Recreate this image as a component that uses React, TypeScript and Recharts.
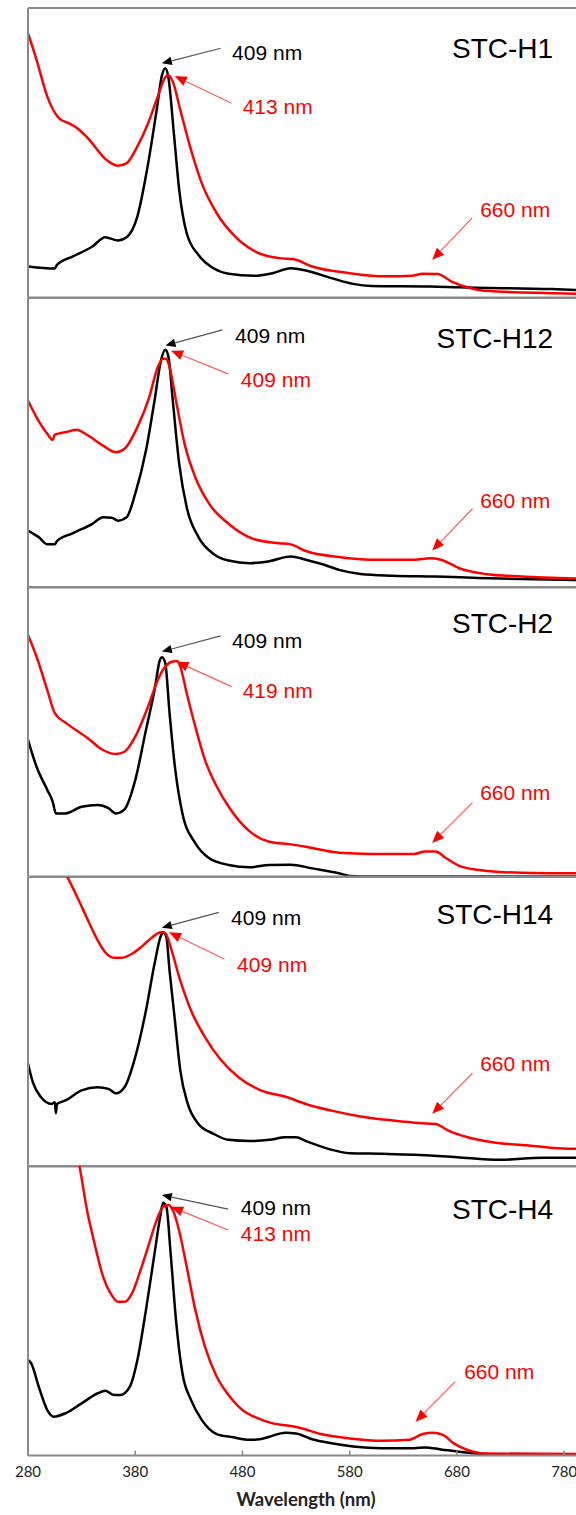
import React from 'react';
import { LineChart, Line, XAxis, YAxis, ReferenceLine, ReferenceDot } from 'recharts';

// wavelength (nm), absorbance (normalised per panel)
const p1Black = [[280, 0.107], [305, 0.1], [307, 0.113], [322, 0.142], [340, 0.176], [352, 0.208], [364, 0.197], [372, 0.208], [382, 0.28], [391, 0.441], [400, 0.648], [405, 0.769], [408, 0.792], [411, 0.758], [416, 0.568], [421, 0.372], [428, 0.222], [439, 0.147], [453, 0.101], [467, 0.082], [491, 0.075], [508, 0.084], [525, 0.101], [539, 0.093], [563, 0.067], [583, 0.047], [600, 0.04], [655, 0.038], [682, 0.035], [768, 0.029], [791, 0.026]];
const p1Red = [[280, 0.913], [288, 0.821], [298, 0.694], [309, 0.619], [318, 0.602], [326, 0.585], [336, 0.55], [353, 0.476], [364, 0.455], [372, 0.464], [382, 0.522], [392, 0.602], [401, 0.694], [408, 0.761], [411, 0.768], [415, 0.746], [422, 0.648], [432, 0.51], [442, 0.395], [456, 0.291], [473, 0.211], [494, 0.155], [514, 0.136], [528, 0.132], [545, 0.107], [580, 0.084], [614, 0.073], [638, 0.075], [648, 0.082], [662, 0.081], [675, 0.055], [693, 0.032], [706, 0.023], [768, 0.015], [791, 0.013]];

const p2Black = [[280, 0.197], [290, 0.174], [298, 0.149], [305, 0.149], [307, 0.16], [322, 0.188], [340, 0.22], [350, 0.243], [358, 0.241], [364, 0.231], [372, 0.243], [380, 0.324], [390, 0.473], [398, 0.646], [404, 0.784], [408, 0.821], [411, 0.796], [415, 0.646], [421, 0.427], [428, 0.277], [439, 0.174], [453, 0.116], [467, 0.093], [487, 0.084], [505, 0.091], [525, 0.107], [539, 0.096], [553, 0.082], [570, 0.061], [590, 0.047], [620, 0.041], [660, 0.038], [700, 0.033], [740, 0.029], [791, 0.026]];
const p2Red = [[280, 0.646], [288, 0.588], [298, 0.531], [303, 0.51], [305, 0.528], [316, 0.537], [325, 0.545], [336, 0.525], [350, 0.49], [362, 0.467], [370, 0.479], [382, 0.554], [393, 0.657], [401, 0.761], [406, 0.79], [409, 0.79], [412, 0.761], [418, 0.646], [426, 0.496], [436, 0.381], [449, 0.289], [467, 0.22], [490, 0.168], [514, 0.153], [525, 0.149], [539, 0.126], [570, 0.105], [600, 0.096], [640, 0.096], [655, 0.101], [665, 0.096], [684, 0.064], [706, 0.047], [740, 0.038], [791, 0.031]];

const p3Black = [[280, 0.472], [288, 0.379], [298, 0.299], [303, 0.259], [306, 0.218], [315, 0.218], [330, 0.241], [345, 0.247], [355, 0.236], [362, 0.218], [370, 0.232], [380, 0.333], [390, 0.506], [398, 0.644], [403, 0.748], [405, 0.757], [408, 0.737], [412, 0.564], [417, 0.379], [424, 0.218], [436, 0.115], [449, 0.063], [467, 0.04], [487, 0.032], [505, 0.04], [525, 0.041], [545, 0.028], [570, 0.011], [580, 0.002], [600, 0], [791, 0]];
const p3Red = [[280, 0.834], [288, 0.759], [298, 0.644], [305, 0.564], [316, 0.529], [336, 0.477], [350, 0.437], [362, 0.423], [370, 0.431], [380, 0.483], [392, 0.587], [401, 0.679], [408, 0.725], [414, 0.742], [419, 0.744], [422, 0.725], [428, 0.633], [436, 0.518], [445, 0.403], [456, 0.311], [467, 0.242], [487, 0.155], [505, 0.12], [525, 0.111], [539, 0.103], [570, 0.082], [600, 0.078], [640, 0.078], [650, 0.086], [660, 0.086], [670, 0.063], [684, 0.034], [706, 0.02], [740, 0.013], [791, 0.011]];

const p4Black = [[280, 0.355], [285, 0.286], [292, 0.24], [302, 0.216], [305, 0.222], [306, 0.184], [307, 0.216], [315, 0.228], [330, 0.263], [345, 0.274], [355, 0.268], [362, 0.253], [370, 0.274], [380, 0.378], [390, 0.539], [398, 0.7], [404, 0.798], [406, 0.809], [409, 0.792], [412, 0.677], [417, 0.504], [422, 0.332], [429, 0.216], [439, 0.147], [453, 0.113], [467, 0.092], [487, 0.088], [505, 0.092], [520, 0.101], [530, 0.101], [539, 0.088], [560, 0.061], [580, 0.046], [610, 0.044], [640, 0.041], [680, 0.032], [720, 0.023], [760, 0.03], [791, 0.03]];
const p4Red = [[280, 1.3], [300, 1.1], [317, 0.998], [326, 0.93], [336, 0.85], [345, 0.781], [352, 0.74], [360, 0.721], [367, 0.721], [377, 0.735], [387, 0.763], [396, 0.792], [404, 0.809], [408, 0.806], [413, 0.758], [421, 0.654], [432, 0.539], [445, 0.447], [459, 0.372], [476, 0.309], [497, 0.263], [521, 0.24], [539, 0.216], [563, 0.193], [590, 0.173], [620, 0.159], [645, 0.15], [660, 0.147], [672, 0.124], [690, 0.101], [713, 0.084], [745, 0.073], [770, 0.064], [791, 0.061]];

const p5Black = [[280, 0.33], [283, 0.318], [290, 0.238], [298, 0.157], [304, 0.134], [315, 0.146], [330, 0.18], [345, 0.215], [352, 0.224], [360, 0.209], [366, 0.209], [375, 0.238], [382, 0.33], [390, 0.503], [398, 0.698], [403, 0.819], [406, 0.873], [409, 0.86], [413, 0.698], [418, 0.468], [424, 0.284], [432, 0.192], [442, 0.123], [456, 0.074], [471, 0.063], [487, 0.054], [496, 0.056], [505, 0.065], [520, 0.079], [530, 0.076], [545, 0.056], [563, 0.042], [583, 0.031], [610, 0.025], [640, 0.025], [650, 0.028], [665, 0.021], [684, 0.012], [706, 0.005], [720, 0.003], [791, 0.003]];
const p5Red = [[280, 1.6], [300, 1.3], [315, 1.12], [328, 0.998], [335, 0.848], [342, 0.733], [350, 0.618], [357, 0.56], [364, 0.531], [370, 0.531], [377, 0.56], [385, 0.641], [393, 0.733], [400, 0.813], [406, 0.859], [411, 0.865], [415, 0.848], [420, 0.79], [428, 0.652], [436, 0.503], [445, 0.376], [456, 0.272], [467, 0.209], [480, 0.157], [494, 0.129], [508, 0.111], [525, 0.102], [535, 0.094], [553, 0.074], [580, 0.059], [610, 0.051], [635, 0.054], [648, 0.074], [657, 0.079], [667, 0.071], [677, 0.042], [690, 0.019], [706, 0.007], [791, 0.005]];

const titles = ['STC-H1', 'STC-H12', 'STC-H2', 'STC-H14', 'STC-H4'];
const blackPeaks = ['409 nm', '409 nm', '409 nm', '409 nm', '409 nm'];
const redPeaks = ['413 nm', '409 nm', '419 nm', '409 nm', '413 nm'];
const qBand = '660 nm';
const xTicks = [280, 380, 480, 580, 680, 780];

// annotation placement in data coordinates: [tail, tip] for arrows, [nm, y] for labels
const notes = [
  { bA: [[459.7, 0.861], [404.8, 0.809]], bL: [470.3, 0.845], rA: [[469.9, 0.671], [416.8, 0.765]], rL: [480.2, 0.658], qA: [[694.2, 0.275], [656.9, 0.13]], qL: [701.6, 0.302], tY: 0.862 },
  { bA: [[461.3, 0.89], [408.2, 0.836]], bL: [473.1, 0.87], rA: [[466.6, 0.738], [413.4, 0.818]], rL: [478.5, 0.717], qA: [[694.5, 0.272], [656.9, 0.128]], qL: [701.6, 0.301], tY: 0.862 },
  { bA: [[459.7, 0.831], [404.8, 0.777]], bL: [470.3, 0.815], rA: [[469.9, 0.656], [418.5, 0.742]], rL: [480.2, 0.642], qA: [[694.5, 0.255], [656.9, 0.116]], qL: [701.6, 0.29], tY: 0.875 },
  { bA: [[458, 0.878], [404.8, 0.825]], bL: [469.4, 0.86], rA: [[463.1, 0.717], [411.5, 0.809]], rL: [475, 0.698], qA: [[694.5, 0.322], [656.9, 0.182]], qL: [701.6, 0.356], tY: 0.87 },
  { bA: [[466.6, 0.851], [404.8, 0.9]], bL: [478.5, 0.857], rA: [[466.6, 0.779], [413.4, 0.859]], rL: [478.5, 0.765], qA: [[678.3, 0.255], [641.4, 0.117]], qL: [686.7, 0.289], tY: 0.85 },
];

const series = [
  [p1Black, p1Red],
  [p2Black, p2Red],
  [p3Black, p3Red],
  [p4Black, p4Red],
  [p5Black, p5Red],
];

const toRows = (pts: number[][]) => pts.map(([nm, a]) => ({ nm, a }));

const AXIS = '#8a8a8a';
const RED = '#ff0000';
const PANEL_H = 289.5;
const TOP = 8;
const PAD = 10;

const arrow = (color: string, lineColor: string, head: number) => (p: any) => {
  const { x1, y1, x2, y2 } = p;
  const ang = Math.atan2(y2 - y1, x2 - x1);
  const c = Math.cos(ang);
  const s = Math.sin(ang);
  const bx = x2 - head * c;
  const by = y2 - head * s;
  const w = head * 0.42;
  const pts = `${x2},${y2} ${bx + w * s},${by - w * c} ${bx - w * s},${by + w * c}`;
  return (
    <g>
      <line x1={x1} y1={y1} x2={bx} y2={by} stroke={lineColor} strokeWidth={1.2} />
      <polygon points={pts} fill={color} />
    </g>
  );
};

const label = (text: string, color: string, size: number, anchor: 'start' | 'end') => (p: any) => (
  <text x={p.cx} y={p.cy} dy="0.35em" fill={color} fontSize={size} textAnchor={anchor} fontFamily="'Liberation Sans', Arial, sans-serif">
    {text}
  </text>
);

const Panel = ({ i }: { i: number }) => {
  const last = i === series.length - 1;
  const axisH = last ? 59 : 2;
  const n = notes[i];
  const [black, red] = series[i];
  return (
    <div style={{ position: 'absolute', left: 0, top: TOP + PANEL_H * i - PAD }}>
      <LineChart width={576} height={PAD + PANEL_H + axisH} margin={{ top: PAD, right: 0, bottom: 0, left: 0 }}>
        <XAxis
          type="number"
          dataKey="nm"
          domain={[280, 791]}
          allowDataOverflow
          ticks={xTicks}
          interval={0}
          height={axisH}
          axisLine={{ stroke: AXIS, strokeWidth: 2 }}
          tickLine={{ stroke: AXIS, strokeWidth: 1.5 }}
          tickSize={-5}
          tickMargin={15.5}
          tick={last ? { fill: '#222', fontSize: 15, fontFamily: 'Lato, sans-serif' } : false}
        />
        <YAxis
          type="number"
          domain={[0, 1]}
          allowDataOverflow
          width={28}
          tick={false}
          tickLine={false}
          axisLine={{ stroke: AXIS, strokeWidth: 2 }}
        />
        <ReferenceLine y={1} stroke={AXIS} strokeWidth={2} />
        <Line data={toRows(black)} dataKey="a" type="monotoneX" stroke="#000" strokeWidth={2.5} dot={false} isAnimationActive={false} />
        <Line data={toRows(red)} dataKey="a" type="monotoneX" stroke={RED} strokeWidth={2.5} dot={false} isAnimationActive={false} />
        <ReferenceLine
          segment={n.bA.map(([x, y]) => ({ x, y }))}
          shape={arrow('#000', '#555', 10)}
        />
        <ReferenceLine
          segment={n.rA.map(([x, y]) => ({ x, y }))}
          shape={arrow(RED, '#ff5a5a', 12)}
        />
        <ReferenceLine
          segment={n.qA.map(([x, y]) => ({ x, y }))}
          shape={arrow(RED, '#ff5a5a', 12)}
        />
        <ReferenceDot x={n.bL[0]} y={n.bL[1]} r={0} shape={label(blackPeaks[i], '#000', 21, 'start')} />
        <ReferenceDot x={n.rL[0]} y={n.rL[1]} r={0} shape={label(redPeaks[i], RED, 21, 'start')} />
        <ReferenceDot x={n.qL[0]} y={n.qL[1]} r={0} shape={label(qBand, RED, 21, 'start')} />
        <ReferenceDot x={769.7} y={n.tY} r={0} shape={label(titles[i], '#000', 28, 'end')} />
      </LineChart>
    </div>
  );
};

export default function App() {
  return (
    <div style={{ position: 'absolute', left: 0, top: 0, width: 576, height: 1515, overflow: 'hidden', background: '#fff' }}>
      {series.map((_, i) => (
        <Panel key={i} i={i} />
      ))}
      <svg width={576} height={1515} style={{ position: 'absolute', left: 0, top: 0, pointerEvents: 'none' }}>
        <text x={306} y={1506} textAnchor="middle" fontSize={18.5} fontWeight="bold" fontFamily="Lato, sans-serif" fill="#222">
          Wavelength (nm)
        </text>
      </svg>
    </div>
  );
}
